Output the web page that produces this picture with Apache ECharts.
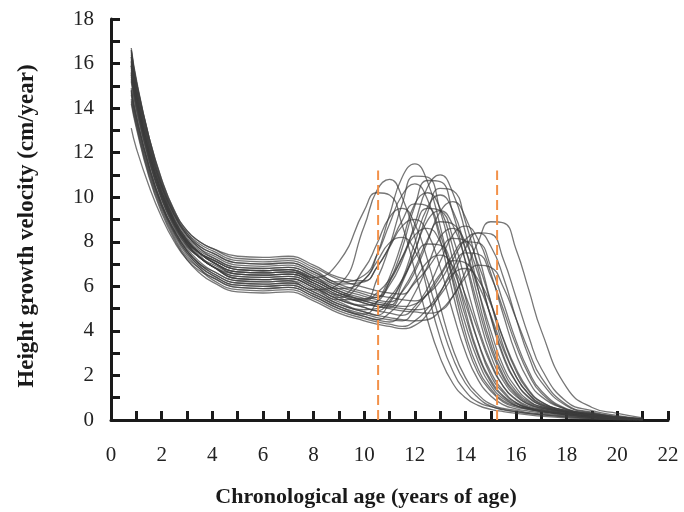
<!DOCTYPE html>
<html>
<head>
<meta charset="utf-8">
<script src="https://cdn.jsdelivr.net/npm/echarts@6/dist/echarts.min.js"></script>
<style>
html,body{margin:0;padding:0;background:#fff;}
#chart{width:684px;height:512px;}
</style>
</head>
<body>
<div id="chart"></div>
<script>
// Shared ages (years) at which each velocity curve is sampled
const ages = [0.8, 1, 1.5, 2, 2.5, 3, 3.5, 4, 5, 6, 7, 8, 9, 10, 10.5, 11, 11.5, 12, 12.5, 13, 13.5, 14, 14.5, 15, 15.5, 16, 16.5, 17, 18, 19, 20, 21];

// Individual height growth velocity curves (cm/year)
const c01 = [15.8,14.5,12.0,10.2,8.9,8.0,7.5,7.2, 6.75,6.7,6.75,6.4,7.1,9.4,10.2,10.1,8.75,6.7,4.5,2.8,1.65,1.0,0.66,0.48,0.38,0.3,0.23,0.17,0.09,0.04,0.02,0.01];
const c02 = [15.2,13.9,11.6,9.9,8.6,7.7,7.1,6.7, 6.25,6.2,6.25,5.85,6.1,8.7,10.3,10.8,10.0,8.2,5.8,3.7,2.2,1.3,0.8,0.6,0.48,0.38,0.3,0.24,0.13,0.06,0.02,0.01];
const c03 = [16.0,14.6,12.1,10.3,9.0,8.1,7.5,7.1, 6.55,6.5,6.55,6.15,5.6,6.8,7.9,9.1,9.5,8.8,7.2,5.1,3.2,1.9,1.15,0.71,0.52,0.43,0.33,0.27,0.17,0.08,0.03,0.01];
const c04 = [16.3,14.9,12.4,10.5,9.2,8.3,7.7,7.3, 6.85,6.8,6.85,6.45,5.9,6.3,7.4,9.2,10.9,11.5,10.7,8.7,6.2,3.9,2.3,1.4,0.86,0.63,0.52,0.4,0.25,0.14,0.05,0.02];
const c05 = [15.6,14.3,11.9,10.1,8.8,7.9,7.3,6.9, 6.35,6.3,6.35,5.95,5.4,5.4,6.3,7.8,9.7,10.95,10.9,9.4,7.2,4.9,3.0,1.8,1.08,0.72,0.55,0.44,0.28,0.16,0.07,0.02];
const c06 = [16.7,15.3,12.7,10.7,9.3,8.4,7.9,7.6, 7.15,7.1,7.15,6.75,6.2,6.5,7.4,8.8,10.1,10.6,9.9,8.1,5.7,3.6,2.1,1.3,0.8,0.58,0.48,0.37,0.23,0.12,0.05,0.02];
const c07 = [14.7,13.5,11.3,9.6,8.4,7.5,6.9,6.5, 6.05,6.0,6.05,5.65,5.1,4.75,5.3,6.4,8.0,9.7,10.2,9.5,7.75,5.5,3.5,2.0,1.22,0.77,0.56,0.46,0.29,0.16,0.07,0.02];
const c08 = [15.9,14.5,12.0,10.2,8.9,8.0,7.5,7.2, 6.75,6.7,6.75,6.35,5.8,5.45,5.5,6.2,7.3,8.6,9.5,9.4,8.2,6.2,4.2,2.6,1.5,0.93,0.62,0.48,0.29,0.15,0.07,0.02];
const c09 = [15.5,14.2,11.8,10.0,8.8,7.9,7.3,6.9, 6.45,6.4,6.45,6.05,5.5,5.15,5.3,6.2,7.7,9.6,10.75,10.7,9.3,7.1,4.8,2.9,1.75,1.06,0.7,0.53,0.32,0.17,0.08,0.02];
const c10 = [16.4,15.0,12.5,10.6,9.2,8.3,7.7,7.4, 6.95,6.9,6.95,6.55,6.0,5.65,5.5,6.05,7.15,8.8,10.45,11.0,10.2,8.4,5.9,3.7,2.2,1.3,0.82,0.6,0.38,0.22,0.1,0.03];
const c11 = [14.8,13.6,11.4,9.7,8.5,7.6,7.0,6.6, 6.15,6.1,6.15,5.75,5.2,4.85,4.7,5.25,6.3,7.95,9.55,10.1,9.4,7.7,5.45,3.4,2.0,1.2,0.76,0.56,0.35,0.2,0.09,0.03];
const c12 = [15.3,14.0,11.7,9.9,8.7,7.8,7.3,6.9, 6.55,6.5,6.55,6.15,5.6,5.25,5.1,5.05,5.8,6.8,8.1,8.9,8.8,7.65,5.85,4.0,2.4,1.45,0.87,0.59,0.36,0.2,0.09,0.03];
const c13 = [16.1,14.7,12.2,10.4,9.0,8.1,7.5,7.1, 6.65,6.6,6.65,6.25,5.7,5.35,5.2,5.15,6.15,7.55,9.3,10.4,10.3,8.9,6.8,4.6,2.8,1.7,1.0,0.68,0.42,0.24,0.11,0.03];
const c14 = [14.3,13.2,11.0,9.4,8.2,7.3,6.8,6.4, 5.95,5.9,5.95,5.55,5.0,4.65,4.5,4.4,4.8,5.7,6.9,8.2,8.6,8.0,6.55,4.65,2.9,1.7,1.03,0.65,0.38,0.21,0.1,0.03];
const c15 = [16.2,14.8,12.3,10.5,9.1,8.2,7.6,7.3, 6.85,6.8,6.85,6.45,5.9,5.55,5.4,5.3,5.75,6.65,8.0,9.35,9.8,9.1,7.45,5.3,3.3,1.95,1.18,0.74,0.43,0.25,0.11,0.03];
const c16 = [16.6,15.2,12.7,10.8,9.4,8.5,8.0,7.7, 7.25,7.2,7.25,6.85,6.3,5.95,5.8,5.7,5.65,6.15,6.8,7.6,8.15,8.05,7.0,5.3,3.6,2.2,1.3,0.8,0.4,0.23,0.1,0.03];
const c17 = [15.6,14.3,11.9,10.1,8.8,7.9,7.3,6.9, 6.35,6.3,6.35,5.95,5.4,5.05,4.9,4.8,4.7,5.1,5.9,7.1,8.3,8.7,8.1,6.6,4.7,2.95,1.75,1.05,0.48,0.3,0.13,0.04];
const c18 = [14.2,13.1,10.9,9.3,8.1,7.2,6.6,6.2, 5.75,5.7,5.75,5.35,4.8,4.45,4.3,4.2,4.1,4.25,4.75,5.7,6.8,7.5,7.45,6.45,4.95,3.35,2.05,1.2,0.47,0.27,0.12,0.04];
const c19 = [16.3,14.9,12.4,10.5,9.2,8.3,7.8,7.5, 7.05,7.0,7.05,6.65,6.1,5.75,5.6,5.5,5.4,5.35,5.65,6.25,7.2,8.1,8.4,7.8,6.4,4.55,2.85,1.7,0.63,0.32,0.15,0.05];
const c20 = [15.9,14.5,12.0,10.2,8.9,8.0,7.5,7.1, 6.65,6.6,6.65,6.25,5.7,5.35,5.2,5.1,5.0,4.95,5.05,5.6,6.5,7.7,8.4,8.35,7.2,5.5,3.75,2.3,0.82,0.42,0.2,0.06];
const c21 = [15.5,14.2,11.8,10.0,8.8,7.9,7.3,7.0, 6.55,6.5,6.55,6.15,5.6,5.25,5.1,5.0,4.9,4.85,4.8,4.9,5.55,6.65,8.0,8.9,8.85,7.65,5.85,4.0,1.45,0.56,0.3,0.1];
const c22 = [14.9,13.7,11.4,9.7,8.5,7.6,7.0,6.7, 6.25,6.2,6.25,5.85,5.3,4.95,5.0,5.5,6.3,7.3,7.9,7.85,6.8,5.2,3.5,2.15,1.3,0.78,0.52,0.4,0.24,0.13,0.06,0.02];
const c23 = [14.6,13.4,11.2,9.6,8.4,7.5,6.9,6.5, 6.05,6.0,6.05,5.65,5.1,4.75,4.6,4.5,4.45,4.95,5.7,6.55,7.15,7.05,6.1,4.7,3.15,1.95,1.15,0.7,0.35,0.2,0.09,0.03];
const c24 = [16.5,15.1,12.6,10.6,9.3,8.4,7.8,7.5, 7.05,7.0,7.05,6.65,6.1,6.2,6.85,7.75,8.7,9.0,8.4,6.85,4.85,3.05,1.8,1.08,0.68,0.5,0.4,0.32,0.2,0.11,0.05,0.02];
const c25 = [15.4,14.1,11.7,10.0,8.7,7.8,7.3,6.9, 6.45,6.4,6.45,6.05,5.5,6.3,7.1,7.95,8.2,7.6,6.25,4.45,2.8,1.65,1.0,0.62,0.45,0.37,0.29,0.23,0.15,0.08,0.03,0.01];
const c26 = [14.4,13.3,11.1,9.5,8.3,7.4,6.8,6.3, 5.85,5.8,5.85,5.45,4.9,4.55,4.4,4.3,4.2,4.45,5.0,5.75,6.55,6.8,6.3,5.2,3.65,2.3,1.35,0.82,0.37,0.22,0.1,0.03];
const c27 = [13.1,12.2,10.5,9.1,8.0,7.2,6.7,6.4, 5.95,5.9,5.95,5.55,5.0,4.65,4.5,4.8,5.4,6.25,7.1,7.4,6.9,5.6,4.0,2.5,1.5,0.9,0.56,0.41,0.26,0.15,0.07,0.02];
const c28 = [16.1,14.7,12.2,10.4,9.0,8.1,7.5,7.1, 6.65,6.6,6.65,6.25,5.7,5.35,5.7,6.3,7.3,8.3,8.6,8.0,6.55,4.65,2.9,1.7,1.03,0.65,0.47,0.39,0.24,0.13,0.06,0.02];
const c29 = [14.8,13.6,11.4,9.7,8.5,7.6,7.0,6.6, 6.15,6.1,6.15,5.75,5.2,4.85,4.7,4.6,4.5,4.45,4.5,4.9,5.55,6.4,6.95,6.85,5.95,4.55,3.1,1.9,0.68,0.35,0.16,0.05];
const c30 = [16.6,15.2,12.7,10.8,9.4,8.5,8.0,7.7, 7.35,7.3,7.35,6.95,6.4,6.25,6.85,7.8,8.95,9.7,9.6,8.35,6.35,4.3,2.65,1.55,0.95,0.65,0.5,0.39,0.25,0.14,0.06,0.02];
const c31 = [15.9,14.5,12.0,10.2,8.9,8.0,7.5,7.2, 6.75,6.7,6.75,6.35,5.8,5.45,5.3,5.2,5.1,5.2,5.65,6.45,7.4,8.0,7.95,6.9,5.25,3.55,2.2,1.3,0.5,0.28,0.12,0.04];
const c32 = [15.7,14.4,12.0,10.2,8.9,8.0,7.4,6.9, 6.35,6.3,6.35,5.95,5.4,5.05,4.9,5.35,6.25,7.6,8.95,9.4,8.75,7.15,5.1,3.2,1.9,1.13,0.7,0.52,0.33,0.19,0.08,0.03];

const curves = [c01,c02,c03,c04,c05,c06,c07,c08,c09,c10,c11,c12,c13,c14,c15,c16,c17,c18,c19,c20,c21,c22,c23,c24,c25,c26,c27,c28,c29,c30,c31,c32];

// Reference ages marked by dashed lines, and their height
const markAges = [10.55, 15.25];
const markTop = 11.2;

// Axis tick values
const xTicks = [0,2,4,6,8,10,12,14,16,18,20,22];
const yTicks = [0,2,4,6,8,10,12,14,16,18];

const chart = echarts.init(document.getElementById('chart'), null, {renderer:'canvas'});

const series = curves.map((c, k) => ({
  type: 'line',
  name: 'c' + (k + 1),
  data: ages.map((a, i) => [a, c[i]]),
  smooth: 0.5,
  showSymbol: false,
  symbol: 'none',
  silent: true,
  lineStyle: {color: 'rgba(60,60,60,0.7)', width: 1.3},
  z: 2
}));

markAges.forEach((a, k) => {
  series.push({
    type: 'line',
    name: 'mark' + k,
    data: [[a, 0], [a, markTop]],
    showSymbol: false,
    symbol: 'none',
    silent: true,
    lineStyle: {color: '#F2914A', width: 2, type: [10, 5]},
    z: 3
  });
});

const axisCommon = {
  type: 'value',
  interval: 1,
  axisLine: {show: true, onZero: false, lineStyle: {color: '#1a1a1a', width: 3}},
  axisTick: {show: true, inside: true, length: 9, lineStyle: {color: '#1a1a1a', width: 3}},
  splitLine: {show: false},
  axisLabel: {
    color: '#222',
    fontFamily: '"Liberation Serif", "Times New Roman", serif',
    fontSize: 21
  }
};

const option = {
  animation: false,
  backgroundColor: '#ffffff',
  grid: {left: 111, right: 16, top: 19, bottom: 92, containLabel: false},
  xAxis: Object.assign({}, axisCommon, {
    min: 0, max: 22,
    axisLabel: Object.assign({}, axisCommon.axisLabel, {
      margin: 25,
      formatter: v => (xTicks.indexOf(v) >= 0 ? String(v) : '')
    })
  }),
  yAxis: Object.assign({}, axisCommon, {
    min: 0, max: 18,
    axisLabel: Object.assign({}, axisCommon.axisLabel, {
      margin: 17,
      formatter: v => (yTicks.indexOf(v) >= 0 ? String(v) : '')
    })
  }),
  graphic: [
    {
      type: 'text',
      x: 27, y: 226,
      rotation: Math.PI / 2,
      style: {
        text: 'Height growth velocity (cm/year)',
        fill: '#1a1a1a',
        font: 'bold 23px "Liberation Serif", "Times New Roman", serif',
        textAlign: 'center',
        textVerticalAlign: 'middle'
      }
    },
    {
      type: 'text',
      x: 366, y: 497,
      style: {
        text: 'Chronological age (years of age)',
        fill: '#1a1a1a',
        font: 'bold 22px "Liberation Serif", "Times New Roman", serif',
        textAlign: 'center',
        textVerticalAlign: 'middle'
      }
    }
  ],
  series: series
};

chart.setOption(option);
</script>
</body>
</html>
